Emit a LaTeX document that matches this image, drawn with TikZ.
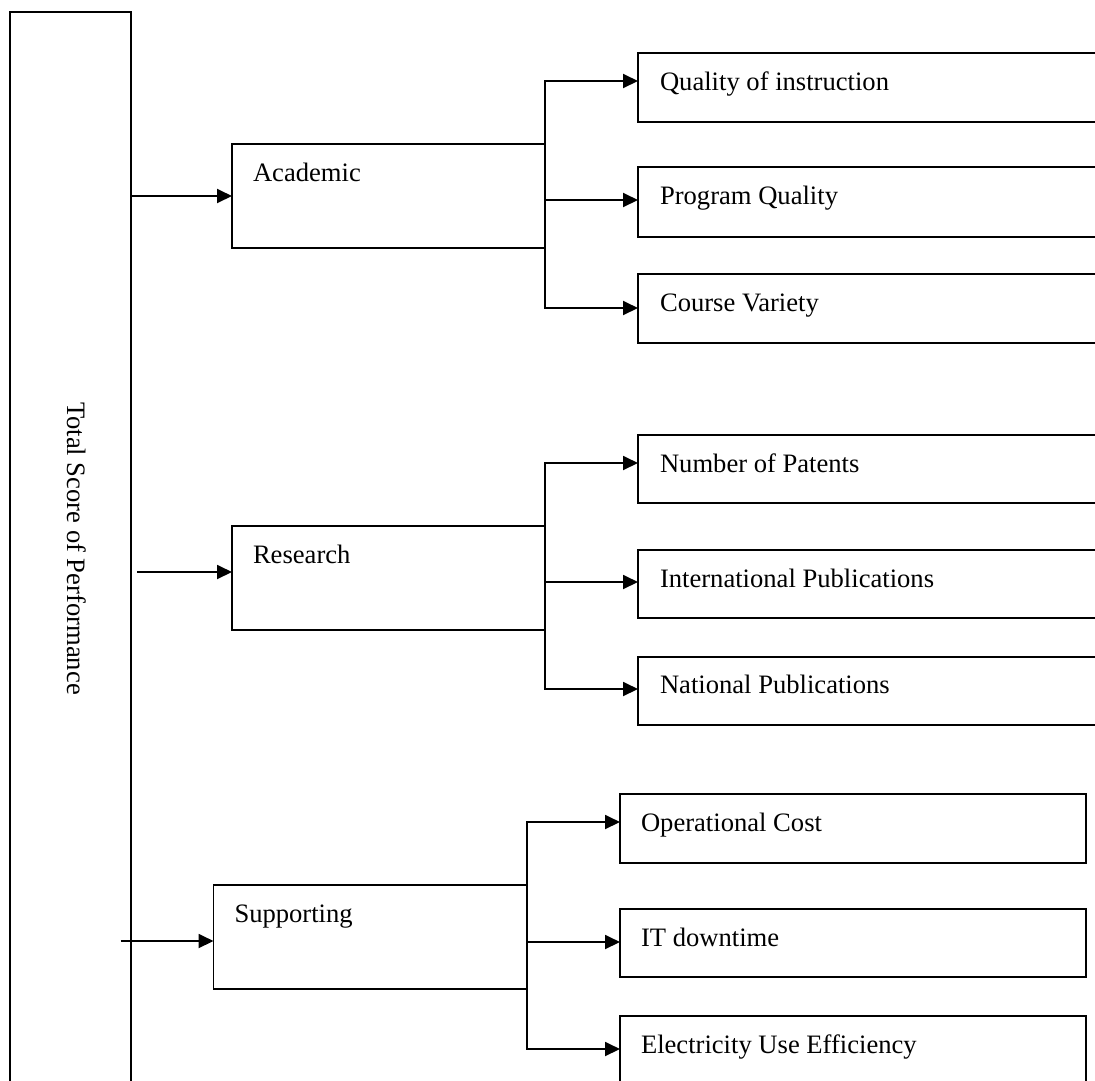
\documentclass[tikz,border=0pt]{standalone}
\usepackage{fontspec}
\setmainfont{Liberation Serif}
\usetikzlibrary{arrows.meta}
\begin{document}
\begin{tikzpicture}[x=1pt,y=-1pt,
  box/.style={draw=black, line width=1.8pt, rectangle, inner sep=0pt, outer sep=0pt, anchor=north west},
  lbl/.style={anchor=base west, inner sep=0pt, outer sep=0pt, font=\fontsize{26.6}{30}\selectfont},
  conn/.style={draw=black, line width=1.9pt},
  vline/.style={conn, line cap=rect},
  arr/.style={conn, -{Triangle[length=15pt,width=14pt]}}]
\useasboundingbox (0,0) rectangle (1095,1080);
\clip (0,0) rectangle (1095,1080);

% main box
\node[box, minimum width=121pt, minimum height=1100pt] (tot) at (10,12) {};
\node[lbl, rotate=-90] (tott) at (67,402) {Total Score of Performance};

% middle boxes
\node[box, minimum width=313pt, minimum height=104pt] (acad) at (232,144) {};
\node[lbl] (acadt) at (253,181) {Academic};
\node[box, minimum width=313pt, minimum height=104pt] (res) at (232,526) {};
\node[lbl] (rest) at (253,563) {Research};
\node[box, minimum width=313.5pt, minimum height=104pt] (sup) at (213.5,885) {};
\node[lbl] (supt) at (234.5,922) {Supporting};

% academic leaves
\node[box, minimum width=480pt, minimum height=69pt] (qi) at (638,53) {};
\node[lbl] (qit) at (660,90) {Quality of instruction};
\node[box, minimum width=480pt, minimum height=70pt] (pq) at (638,167) {};
\node[lbl] (pqt) at (660,204) {Program Quality};
\node[box, minimum width=480pt, minimum height=69pt] (cv) at (638,274) {};
\node[lbl] (cvt) at (660,311) {Course Variety};

% research leaves
\node[box, minimum width=480pt, minimum height=68pt] (np) at (638,435) {};
\node[lbl] (npt) at (660,472) {Number of Patents};
\node[box, minimum width=480pt, minimum height=68pt] (ip) at (638,550) {};
\node[lbl] (ipt) at (660,587) {International Publications};
\node[box, minimum width=480pt, minimum height=68pt] (nap) at (638,657) {};
\node[lbl] (napt) at (660,693) {National Publications};

% supporting leaves
\node[box, minimum width=466pt, minimum height=69pt] (oc) at (620,794) {};
\node[lbl] (oct) at (641,831) {Operational Cost};
\node[box, minimum width=466pt, minimum height=68pt] (it) at (620,909) {};
\node[lbl] (itt) at (641,946) {IT downtime};
\node[box, minimum width=466pt, minimum height=80pt] (ee) at (620,1016) {};
\node[lbl] (eet) at (641,1053) {Electricity Use Efficiency};

% from main box
\draw[arr] (tot.east |- 0,196) -- (acad.west |- 0,196);
\coordinate (rs) at (137,572);
\draw[arr] (rs) -- (res.west |- rs);
\coordinate (ss) at (120.5,941);
\draw[arr] (ss) -- (sup.west |- ss);

% academic branch
\draw[vline] (acad.east |- 0,81) -- (acad.east |- 0,308);
\draw[arr] (acad.east |- 0,81) -- (qi.west |- 0,81);
\draw[arr] (acad.east |- 0,200) -- (pq.west |- 0,200);
\draw[arr] (acad.east |- 0,308) -- (cv.west |- 0,308);

% research branch
\draw[vline] (res.east |- 0,463) -- (res.east |- 0,689);
\draw[arr] (res.east |- 0,463) -- (np.west |- 0,463);
\draw[arr] (res.east |- 0,582) -- (ip.west |- 0,582);
\draw[arr] (res.east |- 0,689) -- (nap.west |- 0,689);

% supporting branch
\draw[vline] (sup.east |- 0,822) -- (sup.east |- 0,1049);
\draw[arr] (sup.east |- 0,822) -- (oc.west |- 0,822);
\draw[arr] (sup.east |- 0,942) -- (it.west |- 0,942);
\draw[arr] (sup.east |- 0,1049) -- (ee.west |- 0,1049);
\end{tikzpicture}
\end{document}
